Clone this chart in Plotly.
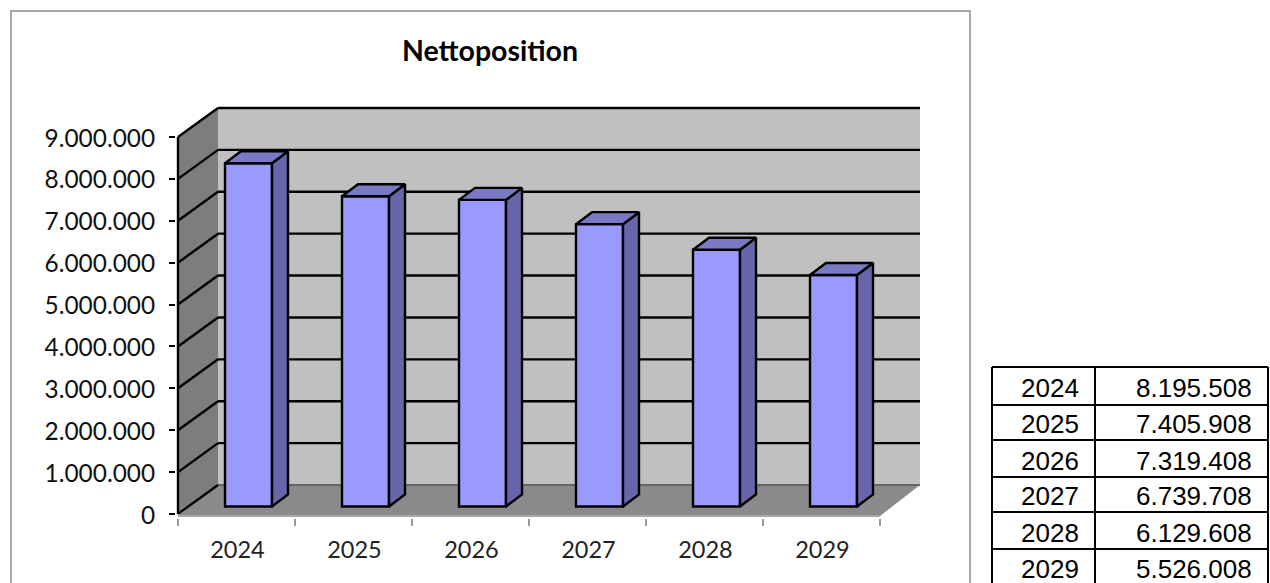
import plotly.graph_objects as go

# ---- data ----
years = [2024, 2025, 2026, 2027, 2028, 2029]
values = [8195508, 7405908, 7319408, 6739708, 6129608, 5526008]
y_ticks = [0, 1000000, 2000000, 3000000, 4000000, 5000000, 6000000, 7000000, 8000000, 9000000]
title = "Nettoposition"

# ---- geometry (reference pixels -> axis units) ----
W, H = 1270, 583
PX_X = 117.0           # pixels per category
PX_Y = 41.89 / 1e6     # pixels per value unit
X0_PX, Y0_PX = 178, 514
dx = lambda p: p / PX_X
dy = lambda p: p / PX_Y

n = len(years)
x_left, x_right = -0.5, n - 0.5
y_top = y_ticks[-1]
wall_dx, wall_dy = dx(40), dy(29)
shift_x, shift_y = dx(12), dy(7.5)
bar_w = dx(47)
depth_x, depth_y = dx(16), dy(12)

PLOT_L, PLOT_R, PLOT_T, PLOT_B = 176, 922, 106, 518
x_range = [x_left - dx(X0_PX - PLOT_L), x_left + dx(PLOT_R - X0_PX)]
y_range = [-dy(PLOT_B - Y0_PX), dy(Y0_PX - PLOT_T)]

C_BACK, C_SIDE, C_FLOOR = "#c0c0c0", "#7d7d7d", "#8a8a8a"
C_FACE, C_RIGHT, C_TOP = "#9999ff", "#6666aa", "#7a7ac4"
FONT = "Lato"
LW = 2.4

def poly(pts, fill, line=None, width=0):
    path = "M " + " L ".join(f"{a},{b}" for a, b in pts) + " Z"
    return dict(type="path", path=path, xref="x", yref="y", layer="below",
                fillcolor=fill, line=dict(color=line or fill, width=width))

def seg(x0, y0, x1, y1, color="#000000", width=LW):
    return dict(type="line", x0=x0, y0=y0, x1=x1, y1=y1, xref="x", yref="y",
                layer="below", line=dict(color=color, width=width))

shapes = []
# walls and floor
shapes.append(poly([(x_left + wall_dx, wall_dy), (x_left + wall_dx, y_top + wall_dy),
                    (x_right + wall_dx, y_top + wall_dy), (x_right + wall_dx, wall_dy)], C_BACK))
shapes.append(poly([(x_left, 0), (x_left, y_top), (x_left + wall_dx, y_top + wall_dy),
                    (x_left + wall_dx, wall_dy)], C_SIDE))
floor_low = -dy(2)
shapes.append(poly([(x_left, floor_low), (x_right, floor_low), (x_right + wall_dx, wall_dy),
                    (x_left + wall_dx, wall_dy)], C_FLOOR))
shapes.append(seg(x_left + wall_dx, wall_dy, x_right + wall_dx, wall_dy, "#666666", 2))
shapes.append(seg(x_left, floor_low, x_right, floor_low, "#a8a8a8", 2))
# gridlines on the back wall and left wall
for t in y_ticks:
    shapes.append(seg(x_left, t, x_left + wall_dx, t + wall_dy))
    if t > 0:
        shapes.append(seg(x_left + wall_dx, t + wall_dy, x_right + wall_dx, t + wall_dy))
shapes.append(seg(x_left, 0, x_left, y_top))

# chart frame
paper_rect = dict(type="rect", xref="paper", yref="paper",
                  line=dict(color="#8c8c8c", width=1.5), fillcolor="rgba(0,0,0,0)", layer="below")
shapes.append(dict(paper_rect, x0=11 / W, x1=970 / W, y0=-0.02, y1=1 - 11 / H))

# ---- table ----
TBL_L, TBL_M, TBL_R = 992, 1095, 1268
row_edges = [367, 405, 440, 477, 512, 549]
row_text_y = [388, 424, 461, 496, 533, 569]
paper_line = dict(type="line", xref="paper", yref="paper", line=dict(color="#000000", width=2))
for e in row_edges:
    shapes.append(dict(paper_line, x0=TBL_L / W, x1=TBL_R / W, y0=1 - e / H, y1=1 - e / H))
for c in (TBL_L, TBL_M, TBL_R):
    shapes.append(dict(paper_line, x0=c / W, x1=c / W, y0=1 - row_edges[0] / H, y1=0))

annotations = [dict(text=title, xref="paper", yref="paper", x=490 / W, y=1 - 50 / H,
                    xanchor="center", yanchor="middle", showarrow=False,
                    font=dict(family=FONT, size=28.5, color="#000000", weight="bold"))]
for yr, v, ty in zip(years, values, row_text_y):
    for txt, right in ((str(yr), 1081), (f"{v:,}".replace(",", "."), 1254)):
        annotations.append(dict(text=txt, xref="paper", yref="paper", x=right / W, y=1 - ty / H,
                                xanchor="right", yanchor="middle", showarrow=False,
                                font=dict(family="Liberation Sans", size=26, color="#000000")))

# ---- traces ----
centers = [i + shift_x for i in range(n)]
fig = go.Figure()
fig.add_trace(go.Bar(x=centers, y=values, base=[shift_y] * n, width=bar_w,
                     marker=dict(color=C_FACE, line=dict(color="#000000", width=LW)),
                     showlegend=False, hoverinfo="skip"))
for c, v in zip(centers, values):
    r = c + bar_w / 2
    l = c - bar_w / 2
    top = v + shift_y
    fig.add_trace(go.Scatter(x=[r, r + depth_x, r + depth_x, r, r],
                             y=[shift_y, shift_y + depth_y, top + depth_y, top, shift_y],
                             fill="toself", fillcolor=C_RIGHT, mode="lines",
                             line=dict(color="#000000", width=LW), showlegend=False, hoverinfo="skip"))
    fig.add_trace(go.Scatter(x=[l, l + depth_x, r + depth_x, r, l],
                             y=[top, top + depth_y, top + depth_y, top, top],
                             fill="toself", fillcolor=C_TOP, mode="lines",
                             line=dict(color="#000000", width=LW), showlegend=False, hoverinfo="skip"))

fig.update_layout(
    width=W, height=H, autosize=False,
    margin=dict(l=0, r=0, t=0, b=0, autoexpand=False),
    paper_bgcolor="#ffffff", plot_bgcolor="rgba(0,0,0,0)",
    separators=",.",
    shapes=shapes, annotations=annotations,
    showlegend=False,
    xaxis=dict(domain=[PLOT_L / W, PLOT_R / W], range=x_range, showgrid=False, zeroline=False,
               automargin=False,
               showline=False, tickmode="array", tickvals=list(range(n)),
               ticktext=[str(y) for y in years], ticks="outside", ticklen=0,
               ticklabelstandoff=11, ticklabelshift=1,
               tickfont=dict(family=FONT, size=23.5, color="#222222"),
               minor=dict(tickmode="array", tickvals=[i - 0.5 for i in range(n + 1)],
                          ticks="outside", ticklen=7, tickcolor="#999999", tickwidth=1.5,
                          showgrid=False)),
    yaxis=dict(domain=[1 - PLOT_B / H, 1 - PLOT_T / H], range=y_range, showgrid=False, zeroline=False,
               automargin=False,
               showline=False, tickmode="array", tickvals=y_ticks, tickformat=",d",
               ticks="outside", ticklen=6, tickcolor="#000000", tickwidth=1.5,
               ticklabelstandoff=9, ticklabelshift=1,
               tickfont=dict(family=FONT, size=24.4, color="#111111")),
)

fig.write_html("out.html", config={"displayModeBar": False},
               post_script="document.body.style.margin='0';document.documentElement.style.overflow='hidden';")
